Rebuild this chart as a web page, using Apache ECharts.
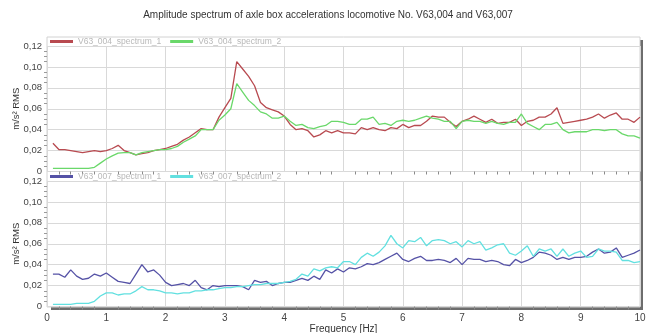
<!DOCTYPE html>
<html>
<head>
<meta charset="utf-8">
<script src="https://cdn.jsdelivr.net/npm/echarts@6/dist/echarts.min.js"></script>
<style>
  html, body { margin: 0; padding: 0; background: #fff; }
  #chart { width: 656px; height: 333px; }
</style>
</head>
<body>
<div id="chart"></div>
<script>
// Frequency bins [Hz]
const freqs = [];
for (let i = 1; i <= 100; i++) freqs.push(+(i / 10).toFixed(1));

// Locomotive V63,004 – amplitude spectra [m/s² RMS]
const v63004Spectrum1 = [
  0.027, 0.021, 0.021, 0.020, 0.019, 0.018, 0.019, 0.020, 0.019, 0.020,
  0.022, 0.025, 0.020, 0.018, 0.016, 0.017, 0.018, 0.020, 0.021, 0.022,
  0.024, 0.026, 0.030, 0.033, 0.037, 0.041, 0.040, 0.040, 0.052, 0.061,
  0.070, 0.105, 0.098, 0.091, 0.082, 0.066, 0.061, 0.059, 0.057, 0.053,
  0.045, 0.040, 0.041, 0.039, 0.033, 0.035, 0.039, 0.037, 0.039, 0.037,
  0.037, 0.036, 0.042, 0.040, 0.042, 0.040, 0.039, 0.042, 0.041, 0.045,
  0.042, 0.044, 0.044, 0.048, 0.053, 0.052, 0.052, 0.047, 0.043, 0.048,
  0.050, 0.053, 0.050, 0.047, 0.050, 0.046, 0.047, 0.047, 0.050, 0.044,
  0.048, 0.049, 0.052, 0.052, 0.055, 0.061, 0.046, 0.047, 0.048, 0.049,
  0.050, 0.052, 0.055, 0.051, 0.054, 0.056, 0.050, 0.050, 0.047, 0.052
];
const v63004Spectrum2 = [
  0.003, 0.003, 0.003, 0.003, 0.003, 0.003, 0.003, 0.004, 0.008, 0.012,
  0.015, 0.0175, 0.018, 0.018, 0.016, 0.018, 0.019, 0.020, 0.021, 0.021,
  0.022, 0.024, 0.028, 0.031, 0.034, 0.040, 0.040, 0.040, 0.049, 0.054,
  0.060, 0.084, 0.076, 0.068, 0.063, 0.057, 0.055, 0.051, 0.051, 0.053,
  0.048, 0.044, 0.045, 0.042, 0.041, 0.043, 0.044, 0.048, 0.048, 0.047,
  0.045, 0.045, 0.050, 0.050, 0.052, 0.045, 0.046, 0.044, 0.048, 0.049,
  0.048, 0.049, 0.051, 0.053, 0.051, 0.050, 0.048, 0.048, 0.041, 0.048,
  0.049, 0.048, 0.048, 0.046, 0.048, 0.046, 0.045, 0.047, 0.047, 0.055,
  0.046, 0.043, 0.040, 0.045, 0.045, 0.047, 0.040, 0.037, 0.038, 0.038,
  0.038, 0.040, 0.040, 0.039, 0.040, 0.040, 0.036, 0.034, 0.034, 0.032
];

// Locomotive V63,007 – amplitude spectra [m/s² RMS]
const v63007Spectrum1 = [
  0.031, 0.031, 0.028, 0.035, 0.029, 0.026, 0.027, 0.031, 0.029, 0.032,
  0.028, 0.024, 0.023, 0.022, 0.031, 0.040, 0.033, 0.035, 0.030, 0.023,
  0.020, 0.021, 0.022, 0.020, 0.025, 0.018, 0.016, 0.020, 0.019, 0.020,
  0.020, 0.020, 0.019, 0.016, 0.025, 0.023, 0.024, 0.020, 0.022, 0.023,
  0.023, 0.025, 0.027, 0.025, 0.029, 0.026, 0.035, 0.032, 0.036, 0.033,
  0.037, 0.036, 0.038, 0.041, 0.040, 0.042, 0.045, 0.048, 0.051, 0.045,
  0.043, 0.046, 0.048, 0.044, 0.044, 0.045, 0.044, 0.042, 0.046, 0.040,
  0.046, 0.045, 0.045, 0.043, 0.044, 0.043, 0.040, 0.039, 0.045, 0.042,
  0.044, 0.047, 0.052, 0.051, 0.049, 0.045, 0.047, 0.045, 0.047, 0.047,
  0.048, 0.052, 0.055, 0.051, 0.052, 0.056, 0.047, 0.049, 0.051, 0.054
];
const v63007Spectrum2 = [
  0.002, 0.002, 0.002, 0.002, 0.003, 0.003, 0.003, 0.005, 0.010, 0.013,
  0.013, 0.011, 0.012, 0.012, 0.015, 0.019, 0.016, 0.016, 0.015, 0.013,
  0.013, 0.012, 0.013, 0.013, 0.015, 0.015, 0.016, 0.016, 0.017, 0.018,
  0.018, 0.019, 0.019, 0.020, 0.021, 0.021, 0.022, 0.022, 0.022, 0.023,
  0.024, 0.026, 0.031, 0.029, 0.036, 0.034, 0.037, 0.038, 0.037, 0.043,
  0.043, 0.040, 0.047, 0.051, 0.048, 0.052, 0.058, 0.068, 0.060, 0.056,
  0.063, 0.062, 0.066, 0.058, 0.063, 0.064, 0.063, 0.060, 0.062, 0.057,
  0.063, 0.060, 0.062, 0.054, 0.056, 0.059, 0.060, 0.051, 0.049, 0.053,
  0.058, 0.048, 0.055, 0.053, 0.055, 0.048, 0.055, 0.048, 0.051, 0.053,
  0.047, 0.048, 0.055, 0.053, 0.053, 0.052, 0.044, 0.044, 0.042, 0.043
];

// Axis ticks
const freqTicks = { min: 0, max: 10, interval: 1 };
const ampTicks = { min: 0, max: 0.12, interval: 0.02 };

const pairs = (ys) => freqs.map((f, i) => [f, ys[i]]);

const labelFont = 'Liberation Sans, Arial, sans-serif';
const fmtAmp = (v) => (v === 0 ? '0' : v.toFixed(2).replace('.', ','));

// Plot geometry (shared frame for both panels)
const L = 47, R = 640, frameTop = 37, frameBottom = 307;

function xAxisFor(gridIndex, withLabels) {
  return {
    type: 'value', gridIndex,
    min: freqTicks.min, max: freqTicks.max, interval: freqTicks.interval,
    axisLine: { show: false },
    axisTick: { show: false },
    minorTick: { show: true, splitNumber: 5, length: 3, lineStyle: { color: '#8a8a8a' } },
    splitLine: { show: true, lineStyle: { color: '#d9d9d9', width: 1 } },
    axisLabel: withLabels
      ? { show: true, color: '#444', fontSize: 10, fontFamily: labelFont, margin: 7 }
      : { show: false },
    name: withLabels ? 'Frequency [Hz]' : '',
    nameLocation: 'middle', nameGap: 13,
    nameTextStyle: { color: '#333', fontSize: 10, fontFamily: labelFont }
  };
}

function yAxisFor(gridIndex) {
  return {
    type: 'value', gridIndex,
    min: ampTicks.min, max: ampTicks.max, interval: ampTicks.interval,
    axisLine: { show: false },
    axisTick: { show: false },
    minorTick: { show: true, splitNumber: 4, length: 3, lineStyle: { color: '#9a9a9a' } },
    splitLine: { show: true, lineStyle: { color: '#d9d9d9', width: 1 } },
    axisLabel: { color: '#444', fontSize: 9.5, fontFamily: labelFont, margin: 5, formatter: fmtAmp },
    name: 'm/s² RMS', nameLocation: 'middle', nameGap: 26, nameRotate: 90,
    nameMoveOverlap: false,
    nameTextStyle: { color: '#333', fontSize: 9.5, fontFamily: labelFont }
  };
}

function lineSeries(name, color, idx, ys) {
  return {
    name, type: 'line', xAxisIndex: idx, yAxisIndex: idx,
    data: pairs(ys), showSymbol: false, symbol: 'none',
    lineStyle: { color, width: 1.3 }, itemStyle: { color },
    animation: false
  };
}

const legendText = { color: '#b8b8b8', fontSize: 8.5, fontFamily: labelFont };

const chart = echarts.init(document.getElementById('chart'), null, { renderer: 'canvas' });
chart.setOption({
  backgroundColor: '#fff',
  animation: false,
  title: {
    text: 'Amplitude spectrum of axle box accelerations locomotive No. V63,004 and V63,007',
    left: 'center', top: 5,
    textStyle: { fontSize: 10, fontWeight: 'normal', color: '#333',
                 fontFamily: 'Liberation Sans, Arial, sans-serif' }
  },
  graphic: [
    { type: 'rect', z: -20, shape: { x: L + 4, y: frameTop + 3, width: R - L - 1, height: frameBottom - frameTop },
      style: { fill: '#6d6d6d' } },
    { type: 'rect', z: -19, shape: { x: L, y: frameTop, width: R - L, height: frameBottom - frameTop },
      style: { fill: '#fff', stroke: '#d2d2d2', lineWidth: 1 } }
  ],
  legend: [
    { left: 50, top: 37, padding: 0, itemWidth: 23, itemHeight: 3, itemGap: 9, icon: 'rect',
      textStyle: legendText, data: ['V63_004_spectrum_1', 'V63_004_spectrum_2'] },
    { left: 50, top: 172, padding: 0, itemWidth: 23, itemHeight: 3, itemGap: 9, icon: 'rect',
      textStyle: legendText, data: ['V63_007_spectrum_1', 'V63_007_spectrum_2'] }
  ],
  grid: [
    { left: L, right: 656 - R, top: 46, height: 125.5, outerBoundsMode: 'none', containLabel: false },
    { left: L, right: 656 - R, top: 181, height: 125.5, outerBoundsMode: 'none', containLabel: false }
  ],
  xAxis: [xAxisFor(0, false), xAxisFor(1, true)],
  yAxis: [yAxisFor(0), yAxisFor(1)],
  series: [
    lineSeries('V63_004_spectrum_1', '#b84a50', 0, v63004Spectrum1),
    lineSeries('V63_004_spectrum_2', '#6ad86a', 0, v63004Spectrum2),
    lineSeries('V63_007_spectrum_1', '#5552a6', 1, v63007Spectrum1),
    lineSeries('V63_007_spectrum_2', '#62e0e0', 1, v63007Spectrum2)
  ]
});
</script>
</body>
</html>
